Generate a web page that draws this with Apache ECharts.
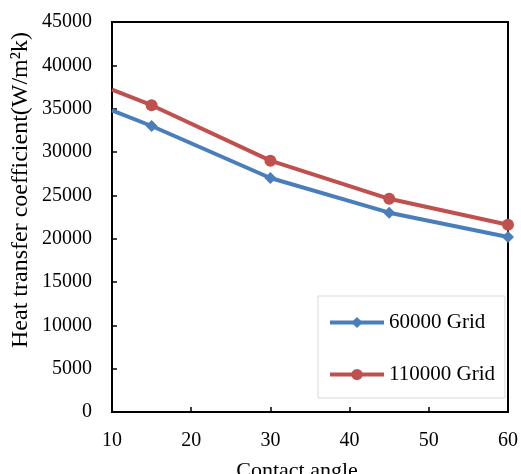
<!DOCTYPE html>
<html>
<head>
<meta charset="utf-8">
<script src="https://cdn.jsdelivr.net/npm/echarts@6/dist/echarts.min.js"></script>
<style>html,body{margin:0;padding:0;background:#fff;}#c{width:521px;height:474px;}</style>
</head>
<body>
<div id="c"></div>
<script>
var angles = [10, 15, 30, 45, 60];
var grid60000 = [34800, 33000, 27000, 23000, 20200];
var grid110000 = [37200, 35400, 29000, 24600, 21600];
var seriesNames = ['60000 Grid', '110000 Grid'];
var xTitle = 'Contact angle';
var yTitle = 'Heat transfer coefficient(W/m\u00B2k)';

function pairs(xs, ys) {
  return xs.map(function (x, i) {
    var item = { value: [x, ys[i]] };
    if (i === 0) item.symbolSize = 0;
    return item;
  });
}
var font = 'Liberation Serif';
var chart = echarts.init(document.getElementById('c'));
chart.setOption({
  animation: false,
  backgroundColor: '#fff',
  textStyle: { fontFamily: font },
  grid: { left: 112, right: 12, top: 22, bottom: 62, show: true, borderColor: '#000', borderWidth: 2 },
  xAxis: {
    type: 'value', min: 10, max: 60, interval: 10,
    axisLine: { lineStyle: { color: '#000', width: 2 } },
    axisTick: { inside: true, length: 5, lineStyle: { color: '#000', width: 1.5 } },
    axisLabel: { fontFamily: font, fontSize: 20, color: '#000', margin: 19, formatter: function (v) { return String(v); } },
    splitLine: { show: false }
  },
  yAxis: {
    type: 'value', min: 0, max: 45000, interval: 5000,
    axisLine: { show: true, lineStyle: { color: '#000', width: 2 } },
    axisTick: { show: true, inside: true, length: 5, lineStyle: { color: '#000', width: 1.5 } },
    axisLabel: { fontFamily: font, fontSize: 20, color: '#000', margin: 20, formatter: function (v) { return String(v); } },
    splitLine: { show: false }
  },
  graphic: [
    {
      type: 'text', x: 21, y: 190, rotation: Math.PI / 2,
      style: { text: yTitle, font: '24px "Liberation Serif"', fill: '#000', textAlign: 'center', textVerticalAlign: 'middle' }
    },
    {
      type: 'text', x: 297, y: 460,
      style: { text: xTitle, font: '22px "Liberation Serif"', fill: '#000', textAlign: 'center', textVerticalAlign: 'top' }
    }
  ],
  legend: {
    orient: 'vertical', left: 318, top: 296,
    backgroundColor: '#fff', borderColor: '#d9d9d9', borderWidth: 1,
    padding: [16, 10, 13, 10], itemGap: 31, itemWidth: 54, itemHeight: 14,
    lineStyle: { width: 4 },
    textStyle: { fontFamily: font, fontSize: 21, color: '#000', lineHeight: 21 },
    data: seriesNames
  },
  series: [
    {
      name: seriesNames[0], type: 'line', data: pairs(angles, grid60000),
      symbol: 'diamond', symbolSize: 12, showAllSymbol: true,
      lineStyle: { color: '#4A7EBB', width: 4 }, itemStyle: { color: '#4A7EBB' }
    },
    {
      name: seriesNames[1], type: 'line', data: pairs(angles, grid110000),
      symbol: 'circle', symbolSize: 12, showAllSymbol: true,
      lineStyle: { color: '#C0504D', width: 4 }, itemStyle: { color: '#C0504D' }
    }
  ]
});
</script>
</body>
</html>
